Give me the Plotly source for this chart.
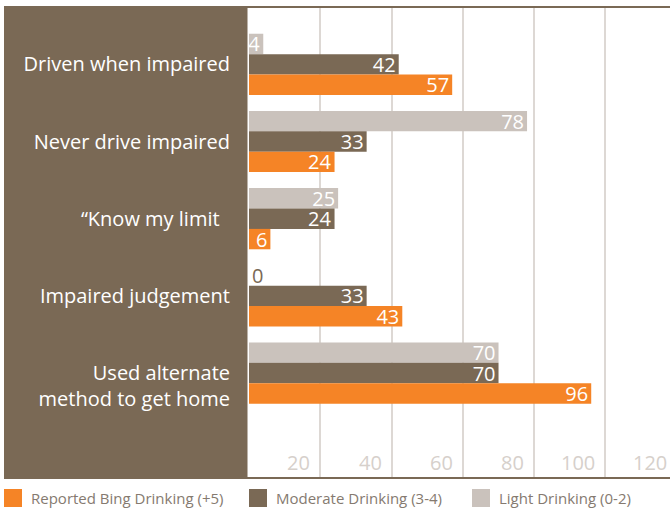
import plotly.graph_objects as go

# ---- data ----
categories = [
    "Driven when impaired",
    "Never drive impaired",
    "\u201cKnow my limit\u00a0\u00a0",
    "Impaired judgement",
    "\u00a0<br>Used alternate<br>method to get home",
]
series_names = ["Reported Bing Drinking (+5)", "Moderate Drinking (3-4)", "Light Drinking (0-2)"]
binge = [57, 24, 6, 43, 96]
moderate = [42, 33, 24, 33, 70]
light = [4, 78, 25, 0, 70]
x_ticks = [20, 40, 60, 80, 100, 120]

# ---- style ----
ORANGE = "#f58426"
BROWN = "#7a6955"
LIGHT = "#cac2bc"
GRID = "#ddd8d4"
TICKC = "#d6d0cb"
LEGC = "#857a70"
FONT = "Open Sans"

W, H = 670, 510
L, R, T, B = 249, 0, 8, 32
PW, PH = W - L - R, H - T - B
X_MAX = 118.1


def pxx(p):
    return (p - L) / PW


def pyy(p):
    return (H - B - p) / PH


fig = go.Figure()
series = [(series_names[2], light, LIGHT), (series_names[1], moderate, BROWN), (series_names[0], binge, ORANGE)]
for name, vals, col in series:
    fig.add_trace(go.Bar(
        y=categories, x=vals, name=name, orientation="h",
        marker=dict(color=col, line=dict(width=0)),
        text=[str(v) for v in vals],
        textposition=["inside" if v > 0 else "outside" for v in vals],
        insidetextanchor="end",
        constraintext="none",
        textangle=0,
        textfont=dict(family=FONT, size=20, color="white"),
        insidetextfont=dict(family=FONT, size=20, color="white"),
        outsidetextfont=dict(family=FONT, size=20, color=BROWN),
        cliponaxis=False,
        showlegend=False,
        hoverinfo="skip",
    ))

shapes = [
    # brown label panel
    dict(type="rect", xref="paper", yref="paper", x0=pxx(4), x1=pxx(247.5), y0=pyy(478), y1=pyy(7),
         fillcolor=BROWN, line=dict(width=0), layer="below"),
    # top and bottom rules
    dict(type="line", xref="paper", yref="paper", x0=pxx(4), x1=1, y0=pyy(7), y1=pyy(7),
         line=dict(color=BROWN, width=2)),
    dict(type="line", xref="paper", yref="paper", x0=pxx(4), x1=1, y0=pyy(478), y1=pyy(478),
         line=dict(color=BROWN, width=2)),
]

annotations = []
for v in x_ticks:
    annotations.append(dict(
        xref="paper", yref="paper", x=v / X_MAX, y=0, xanchor="right", yanchor="bottom",
        xshift=-8, yshift=0, text=str(v), showarrow=False,
        font=dict(family=FONT, size=20, color=TICKC)))

# manual legend
leg_x = [4, 249, 472]
leg_cols = [ORANGE, BROWN, LIGHT]
for i, (x0, col) in enumerate(zip(leg_x, leg_cols)):
    shapes.append(dict(type="rect", xref="paper", yref="paper", x0=pxx(x0), x1=pxx(x0 + 18),
                       y0=pyy(507), y1=pyy(489), fillcolor=col, line=dict(width=0)))
    annotations.append(dict(xref="paper", yref="paper", x=pxx(x0 + 25), y=pyy(498),
                            xanchor="left", yanchor="middle", text=series_names[i], showarrow=False,
                            font=dict(family=FONT, size=15, color=LEGC)))

fig.update_layout(
    width=W, height=H,
    margin=dict(l=L, r=R, t=T, b=B, pad=0),
    paper_bgcolor="white", plot_bgcolor="white",
    barmode="group", bargap=0.207, bargroupgap=0,
    shapes=shapes, annotations=annotations,
    font=dict(family=FONT),
    xaxis=dict(range=[0, X_MAX], tickvals=x_ticks, showticklabels=False, showgrid=True,
               gridcolor=GRID, gridwidth=1.5, zeroline=False, showline=False, ticks="", fixedrange=True),
    yaxis=dict(type="category", categoryorder="array", categoryarray=categories,
               range=[5.36, -0.73], showgrid=False, zeroline=False, showline=False,
               ticks="outside", ticklen=14, tickcolor="rgba(0,0,0,0)",
               tickfont=dict(family=FONT, size=20, color="white"), fixedrange=True),
)

fig.write_html("out.html", config={"displayModeBar": False},
               post_script="document.body.style.margin='0';document.body.style.overflow='hidden';")
